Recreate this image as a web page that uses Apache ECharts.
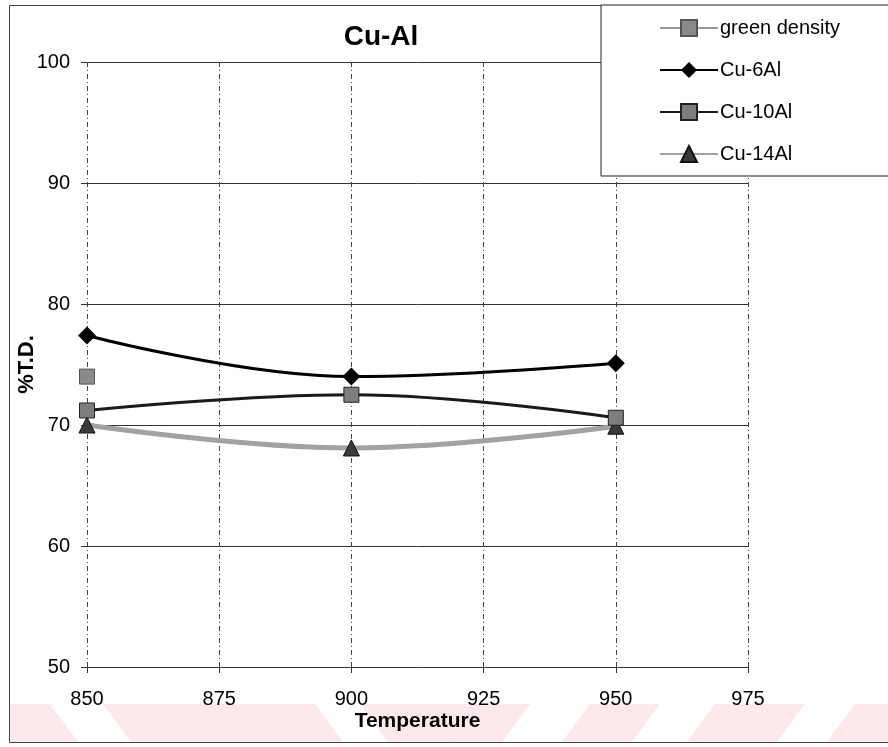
<!DOCTYPE html>
<html>
<head>
<meta charset="utf-8">
<script src="https://cdn.jsdelivr.net/npm/echarts@6/dist/echarts.min.js"></script>
<style>
html,body{margin:0;padding:0;background:#fff;}
#chart{width:888px;height:747px;}
</style>
</head>
<body>
<div id="chart"></div>
<script>
// ---- data ----
const temperatures = [850, 900, 950];
const greenDensityTemps = [850];
const greenDensity = [74.0];
const cu6Al = [77.4, 74.0, 75.1];
const cu10Al = [71.2, 72.5, 70.6];
const cu14Al = [70.0, 68.1, 69.9];
const seriesNames = ['green density', 'Cu-6Al', 'Cu-10Al', 'Cu-14Al'];
const xTicks = [850, 875, 900, 925, 950, 975];
const yTicks = [50, 60, 70, 80, 90, 100];

const pairs = (xs, ys) => xs.map((x, i) => [x, ys[i]]);
const FONT = 'Liberation Sans, Arial, sans-serif';

const chart = echarts.init(document.getElementById('chart'), null, {renderer: 'canvas'});

// decorative pink watermark band at the bottom
const band = [];
band.push({type: 'rect', shape: {x: 10, y: 704, width: 878, height: 38}, style: {fill: '#fde9eb'}, z: -10, silent: true});
const stripesBack = [[50, 53], [315, 45]];
stripesBack.forEach(s => band.push({type: 'polygon', silent: true, z: -9,
  shape: {points: [[s[0], 704], [s[0] + s[1], 704], [s[0] + s[1] + 28, 742], [s[0] + 28, 742]]},
  style: {fill: '#ffffff'}}));
const stripesFwd = [[530, 60], [660, 55], [805, 50]];
stripesFwd.forEach(s => band.push({type: 'polygon', silent: true, z: -9,
  shape: {points: [[s[0], 704], [s[0] + s[1], 704], [s[0] + s[1] - 28, 742], [s[0] - 28, 742]]},
  style: {fill: '#ffffff'}}));

const option = {
  backgroundColor: '#ffffff',
  animation: false,
  title: {
    text: 'Cu-Al',
    left: 376, top: 18, textAlign: 'center',
    textStyle: {fontFamily: FONT, fontSize: 28, fontWeight: 'bold', color: '#000'}
  },
  graphic: band.concat([
    {type: 'rect', silent: true, z: -5,
     shape: {x: 9.5, y: 5.5, width: 900, height: 737},
     style: {fill: 'none', stroke: '#444', lineWidth: 1}}
  ]),
  legend: {
    orient: 'vertical',
    left: 601, top: 5,
    padding: [13, 70, 12, 58],
    itemGap: 22,
    itemWidth: 58, itemHeight: 20,
    backgroundColor: '#fff',
    borderColor: '#222', borderWidth: 1,
    textStyle: {fontFamily: FONT, fontSize: 20, lineHeight: 20, color: '#000', padding: [0, 0, 0, -3]},
    data: seriesNames
  },
  grid: {left: 87, right: 140, top: 62, bottom: 80, containLabel: false, outerBoundsMode: 'none'},
  xAxis: {
    type: 'value', min: 850, max: 975, interval: 25,
    name: 'Temperature', nameLocation: 'middle', nameGap: 44, nameMoveOverlap: false,
    nameTextStyle: {fontFamily: FONT, fontSize: 21, fontWeight: 'bold', color: '#000'},
    axisLine: {show: false},
    axisTick: {show: true, length: 6, inside: false, lineStyle: {color: '#333'}},
    axisLabel: {fontFamily: FONT, fontSize: 20, color: '#000', margin: 22,
      formatter: v => xTicks.includes(v) ? String(v) : ''},
    splitLine: {show: true, lineStyle: {color: '#444', width: 1, type: [5, 3, 1, 3]}}
  },
  yAxis: {
    type: 'value', min: 50, max: 100, interval: 10,
    name: '%T.D.', nameLocation: 'middle', nameGap: 49, nameRotate: 90, nameMoveOverlap: false,
    nameTextStyle: {fontFamily: FONT, fontSize: 22, fontWeight: 'bold', color: '#000'},
    axisLine: {show: false},
    axisTick: {show: true, length: 6, lineStyle: {color: '#333'}},
    axisLabel: {fontFamily: FONT, fontSize: 20, color: '#000', margin: 17,
      formatter: v => yTicks.includes(v) ? String(v) : ''},
    splitLine: {show: true, lineStyle: {color: '#333', width: 1}}
  },
  series: [
    {
      name: seriesNames[0], type: 'line',
      data: pairs(greenDensityTemps, greenDensity),
      symbol: 'rect', symbolSize: 15,
      itemStyle: {color: '#8a8a8a', borderColor: '#555', borderWidth: 1},
      lineStyle: {color: '#9a9a9a', width: 2}, z: 3
    },
    {
      name: seriesNames[1], type: 'line', smooth: 0.4,
      data: pairs(temperatures, cu6Al),
      symbol: 'diamond', symbolSize: 18,
      itemStyle: {color: '#000'},
      lineStyle: {color: '#000', width: 3}, z: 4
    },
    {
      name: seriesNames[2], type: 'line', smooth: 0.4,
      data: pairs(temperatures, cu10Al),
      symbol: 'rect', symbolSize: 15,
      itemStyle: {color: '#7d7d7d', borderColor: '#222', borderWidth: 1},
      lineStyle: {color: '#1a1a1a', width: 3}, z: 5
    },
    {
      name: seriesNames[3], type: 'line', smooth: 0.4,
      data: pairs(temperatures, cu14Al),
      symbol: 'triangle', symbolSize: 16,
      itemStyle: {color: '#3a3a3a', borderColor: '#111', borderWidth: 1},
      lineStyle: {color: '#a2a2a2', width: 5}, z: 3
    }
  ]
};
chart.setOption(option);
</script>
</body>
</html>
